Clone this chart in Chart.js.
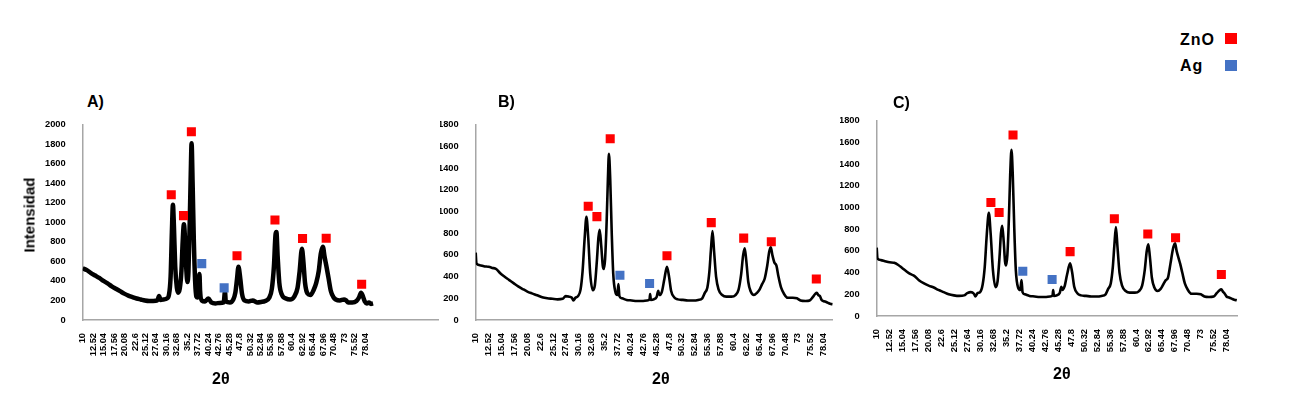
<!DOCTYPE html>
<html>
<head>
<meta charset="utf-8">
<script src="https://cdn.jsdelivr.net/npm/chart.js@4.4.1/dist/chart.umd.min.js"></script>
<style>
  html, body { margin: 0; padding: 0; background: #fff; width: 1304px; height: 399px; overflow: hidden; }
  canvas { position: absolute; }
  .t { position: absolute; font-family: "Liberation Sans", Arial, sans-serif; font-weight: bold; color: #000; white-space: nowrap; line-height: 1; }
  .sq { position: absolute; width: 12px; height: 11px; }
</style>
</head>
<body>
<canvas id="cA" width="445" height="270" style="left:0px;top:110px"></canvas>
<canvas id="cB" width="400" height="270" style="left:440px;top:110px"></canvas>
<canvas id="cC" width="410" height="270" style="left:840px;top:106px"></canvas>

<div class="t" style="left:87px;top:94px;font-size:16px">A)</div>
<div class="t" style="left:498px;top:94px;font-size:16px">B)</div>
<div class="t" style="left:893px;top:95px;font-size:16px">C)</div>
<div class="t" style="left:212px;top:371px;font-size:16px">2θ</div>
<div class="t" style="left:652px;top:371px;font-size:16px">2θ</div>
<div class="t" style="left:1053px;top:366px;font-size:16px">2θ</div>
<div class="t" style="left:29px;top:215px;font-size:15px;transform:translate(-50%,-50%) rotate(-90deg)">Intensidad</div>

<div class="t" style="left:1180px;top:32px;font-size:16px;letter-spacing:1px">ZnO</div>
<div class="sq" style="left:1225px;top:33px;background:#ff0000"></div>
<div class="t" style="left:1180px;top:58px;font-size:16px;letter-spacing:1px">Ag</div>
<div class="sq" style="left:1225px;top:60px;background:#4472c4"></div>

<script>
// ---------- tick labels (2θ axis) ----------
const xTickLabels = ["10","12.52","15.04","17.56","20.08","22.6","25.12","27.64","30.16","32.68","35.2","37.72","40.24","42.76","45.28","47.8","50.32","52.84","55.36","57.88","60.4","62.92","65.44","67.96","70.48","73","75.52","78.04"];

// ---------- Panel A ----------
const aAngle = [10,11,12,13,14,15,16,17,18,19,20,21,22,23,24,25,26,27,28,28.4,28.8,29.5,30.3,30.8,31.2,31.5,31.75,32.0,32.3,32.7,33.0,33.4,33.8,34.1,34.4,34.7,35.0,35.25,35.5,35.8,36.05,36.25,36.5,36.8,37.1,37.4,37.7,38.0,38.15,38.3,38.7,39.5,40.3,41,42,43,44,44.3,44.5,45.5,46.3,46.8,47.2,47.55,48.0,48.4,49,50,51,52,53,54,55,55.6,56.1,56.5,56.7,57.0,57.4,58,59,60,61,61.8,62.3,62.85,63.2,63.6,64.2,64.9,65.7,66.3,66.9,67.4,67.9,68.3,68.8,69.3,69.8,70.5,71,72,73,73.5,74,75,76,76.6,77.1,77.5,78,78.5,79,79.5,80];
const aIntensity = [530,510,480,455,430,400,375,345,320,295,270,250,235,220,210,200,195,195,200,245,205,210,220,260,450,900,1180,950,550,330,280,320,500,800,980,800,500,390,500,1000,1500,1810,1400,800,400,240,230,380,470,300,200,190,220,180,170,175,180,290,190,180,210,280,420,545,420,270,200,190,200,180,185,195,230,320,550,880,900,650,380,260,220,210,240,330,500,730,600,380,270,255,310,380,500,680,750,650,540,420,300,230,210,200,210,200,180,180,195,230,280,250,190,170,180,165,170];
const aZnOAngle = [31.35,34.3,36.2,47.2,56.35,63.0,68.7,77.25];
const aZnOIntensity = [1282,1068,1926,658,1024,834,837,366];
const aAgAngle = [38.7,44.1];
const aAgIntensity = [577,329];

// ---------- Panel B ----------
const bAngle = [10.0,10.15,10.8,11.6,12.5,13.3,14.0,14.8,15.6,16.5,17.4,18.3,19.2,20.1,21.0,22.0,23.0,24.0,25.0,26.0,27.0,27.6,28.2,28.8,29.1,29.5,30.0,30.5,30.9,31.3,31.65,32.0,32.4,32.9,33.3,33.7,34.0,34.25,34.55,34.85,35.05,35.3,35.6,35.85,36.05,36.3,36.6,36.9,37.3,37.7,37.9,38.1,38.6,39.5,40.5,41.5,42.5,43.5,44.0,44.1,44.25,44.8,45.4,45.7,45.9,46.4,46.9,47.4,47.8,48.2,48.8,49.5,50.5,51.5,52.5,53.5,54.3,54.8,55.3,55.7,56.0,56.3,56.6,57.0,57.5,58.2,59.0,60.0,60.8,61.4,61.9,62.3,62.6,62.9,63.3,63.8,64.4,65.0,65.5,66.0,66.5,67.0,67.4,67.7,68.0,68.4,68.8,69.2,69.7,70.3,71.0,72.0,72.8,73.5,74.5,75.3,75.9,76.4,76.7,77.0,77.3,77.7,78.3,78.8,79.3,79.8];
const bIntensity = [620,520,505,495,490,480,470,430,400,370,340,310,285,262,245,228,210,200,195,190,195,220,215,205,180,205,220,280,450,750,950,760,420,275,320,550,760,830,680,500,470,560,900,1300,1530,1300,800,420,260,230,330,220,200,185,180,175,175,180,190,240,185,190,215,270,230,260,380,490,400,270,210,190,185,180,180,185,200,250,300,450,650,820,640,400,280,230,215,215,230,280,420,600,660,550,350,260,230,250,280,330,380,500,630,670,600,530,500,400,300,240,205,205,200,180,175,180,210,240,250,230,220,180,170,160,150,145];
const bZnOAngle = [32.0,33.7,36.3,47.4,56.06,62.4,67.8,76.6];
const bZnOIntensity = [1047,952,1669,592,897,754,720,378];
const bAgAngle = [38.2,44.0];
const bAgIntensity = [412,336];

// ---------- Panel C ----------
const cAngle = [10.0,10.15,10.8,11.6,12.5,13.4,14.2,15.0,15.8,16.6,17.3,18.2,19.2,20.1,21.1,22.0,23.0,24.0,25.0,26.0,27.0,27.6,28.3,28.9,29.2,29.6,30.1,30.6,31.0,31.4,31.8,32.15,32.6,33.1,33.5,33.9,34.15,34.4,34.7,34.95,35.15,35.4,35.7,35.95,36.2,36.45,36.75,37.05,37.5,37.9,38.15,38.35,38.8,39.7,40.7,41.7,42.7,43.7,44.2,44.3,44.45,45.0,45.6,45.9,46.1,46.5,47.0,47.6,48.0,48.4,49.0,49.7,50.7,51.7,52.7,53.7,54.5,55.0,55.5,55.9,56.2,56.5,56.8,57.2,57.7,58.4,59.2,60.2,61.0,61.6,62.1,62.5,62.8,63.1,63.5,64.0,64.6,65.2,65.7,66.2,66.6,67.1,67.6,68.0,68.3,68.7,69.0,69.4,69.9,70.5,71.2,72.2,73.0,73.7,74.6,75.5,76.1,76.6,77.0,77.3,77.6,78.0,78.5,79.0,79.5,80.0];
const cIntensity = [630,530,515,505,495,490,470,440,410,385,370,330,300,280,262,240,220,200,190,185,190,210,220,205,180,210,220,290,450,750,950,760,420,266,320,560,760,830,680,500,465,560,900,1300,1530,1300,800,420,260,240,330,220,200,185,180,175,175,180,190,240,185,190,215,270,240,270,380,485,400,270,210,190,185,180,180,185,200,250,300,450,650,820,640,400,280,230,215,215,230,280,420,600,660,550,350,260,230,250,290,330,350,480,620,670,600,530,480,400,300,240,205,205,200,180,175,180,210,235,245,225,210,180,170,160,150,145];
const cZnOAngle = [32.2,33.8,36.5,47.6,56.2,62.7,68.1,77.0];
const cZnOIntensity = [1045,953,1668,593,895,755,721,382];
const cAgAngle = [38.4,44.1];
const cAgIntensity = [413,336];

const RED = '#ff0000', BLUE = '#4472c4';
const tickFont = { family: '"Liberation Sans", Arial, sans-serif', size: 9.3, weight: 'bold' };
const xTickVals = xTickLabels.map(Number);

function pts(xs, ys) { return xs.map((x, i) => ({ x: x, y: ys[i] })); }

function makeChart(id, cfg) {
  new Chart(document.getElementById(id), {
    type: 'line',
    data: {
      datasets: [
        { data: pts(cfg.ang, cfg.inten), borderColor: '#000', borderWidth: cfg.lw, pointRadius: 0, cubicInterpolationMode: 'monotone', fill: false, order: 2 },
        { type: 'scatter', data: pts(cfg.zA, cfg.zI), pointStyle: 'rect', pointRadius: 6.4, backgroundColor: RED, borderColor: RED, borderWidth: 0, order: 1 },
        { type: 'scatter', data: pts(cfg.gA, cfg.gI), pointStyle: 'rect', pointRadius: 6.4, backgroundColor: BLUE, borderColor: BLUE, borderWidth: 0, order: 1 }
      ]
    },
    options: {
      responsive: false, animation: false, devicePixelRatio: 1,
      layout: { padding: { left: 0, right: cfg.padR, top: 13.3, bottom: 0 } },
      plugins: { legend: { display: false }, tooltip: { enabled: false } },
      scales: {
        x: {
          type: 'linear', min: 10, max: cfg.xMax,
          grid: { display: false },
          border: { display: true, color: '#a6a6a6', width: 1.5 },
          afterBuildTicks: (s) => { s.ticks = xTickVals.map(v => ({ value: v })); },
          afterFit: (s) => { s.height = 60; },
          ticks: {
            autoSkip: false, minRotation: 90, maxRotation: 90, padding: 5,
            color: '#000', font: tickFont,
            callback: (v) => { const i = xTickVals.indexOf(v); return i >= 0 ? xTickLabels[i] : ''; }
          }
        },
        y: {
          min: 0, max: cfg.yMax,
          grid: { display: false },
          border: { display: true, color: '#a6a6a6', width: 1.5 },
          afterFit: (s) => { s.width = cfg.yw; },
          ticks: { stepSize: 200, padding: 9, color: '#000', font: tickFont, callback: (v) => String(v) }
        }
      }
    }
  });
}

makeChart('cA', { ang: aAngle, inten: aIntensity, zA: aZnOAngle, zI: aZnOIntensity, gA: aAgAngle, gI: aAgIntensity, lw: 4.5, xMax: 95.8, yMax: 2000, yw: 82.7, padR: 2 });
makeChart('cB', { ang: bAngle, inten: bIntensity, zA: bZnOAngle, zI: bZnOIntensity, gA: bAgAngle, gI: bAgIntensity, lw: 2.6, xMax: 79.8, yMax: 1800, yw: 35.7, padR: 4 });
makeChart('cC', { ang: cAngle, inten: cIntensity, zA: cZnOAngle, zI: cZnOIntensity, gA: cAgAngle, gI: cAgIntensity, lw: 2.6, xMax: 80.1, yMax: 1800, yw: 36.7, padR: 12.7 });
</script>
</body>
</html>
